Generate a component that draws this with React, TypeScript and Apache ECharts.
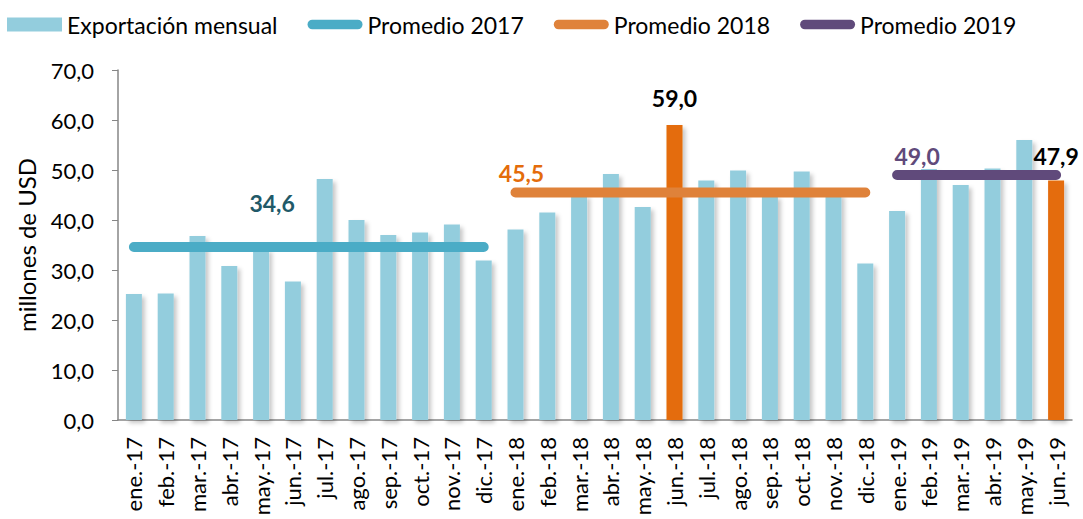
import React, { useEffect, useRef } from "react";
import * as echarts from "echarts";

const categories = [
  "ene.-17", "feb.-17", "mar.-17", "abr.-17", "may.-17", "jun.-17",
  "jul.-17", "ago.-17", "sep.-17", "oct.-17", "nov.-17", "dic.-17",
  "ene.-18", "feb.-18", "mar.-18", "abr.-18", "may.-18", "jun.-18",
  "jul.-18", "ago.-18", "sep.-18", "oct.-18", "nov.-18", "dic.-18",
  "ene.-19", "feb.-19", "mar.-19", "abr.-19", "may.-19", "jun.-19",
];

const monthlyExports = [
  25.2, 25.3, 36.8, 30.8, 34.2, 27.7, 48.2, 40.0, 37.0, 37.5, 39.1, 31.9,
  38.1, 41.5, 45.0, 49.2, 42.6, 59.0, 47.9, 49.9, 44.8, 49.7, 45.3, 31.3,
  41.8, 50.2, 47.0, 50.3, 56.0, 47.9,
];

const highlighted = ["jun.-18", "jun.-19"];

const averages = [
  { year: "17", value: 34.6, name: "Promedio 2017", labelAt: "may.-17" },
  { year: "18", value: 45.5, name: "Promedio 2018", labelAt: "ene.-18" },
  { year: "19", value: 49.0, name: "Promedio 2019", labelAt: "ene.-19" },
];

const yTicks = { min: 0, max: 70, interval: 10 };

const FONT = "Lato, 'Open Sans', sans-serif";
const BAR_COLOR = "#93CDDD";
const HIGHLIGHT_COLOR = "#E46C0A";
const LINE_COLORS = ["#4BACC6", "#DF823A", "#604A7B"];
const LABEL_COLORS = ["#215968", "#E46C0A", "#604A7B"];
const LABEL_OFFSETS: [number, number][] = [
  [11, -28],
  [6, -3],
  [20, -3],
];

const fmt = (v: number) => v.toFixed(1).replace(".", ",");

export default function App() {
  const ref = useRef<HTMLDivElement>(null);

  useEffect(() => {
    if (!ref.current) return;
    const chart = echarts.init(ref.current, undefined, { renderer: "svg" });

    const barData = monthlyExports.map((v, i) => {
      const isHi = highlighted.includes(categories[i]);
      if (!isHi) return v;
      return {
        value: v,
        itemStyle: { color: HIGHLIGHT_COLOR },
        label: {
          show: true,
          position: "top",
          formatter: fmt(v),
          fontFamily: FONT,
          fontSize: 23,
          fontWeight: "bold",
          color: "#000",
          offset: [0, i === 17 ? -11 : -8],
        },
      };
    });

    const lineSeries = averages.map((a, k) => ({
      name: a.name,
      type: "line",
      data: categories.map((c) => {
        if (!c.endsWith(a.year)) return null;
        if (c === a.labelAt) {
          return {
            value: a.value,
            label: {
              show: true,
              position: "top",
              formatter: fmt(a.value),
              fontFamily: FONT,
              fontSize: 23,
              fontWeight: "bold",
              color: LABEL_COLORS[k],
              offset: LABEL_OFFSETS[k],
            },
          };
        }
        return a.value;
      }),
      symbol: "circle",
      symbolSize: 0,
      showSymbol: true,
      showAllSymbol: true,
      connectNulls: false,
      silent: true,
      color: LINE_COLORS[k],
      itemStyle: { color: LINE_COLORS[k] },
      lineStyle: { color: LINE_COLORS[k], width: 10, cap: "round" },
      emphasis: { disabled: true },
      z: 3,
    }));

    const linePath = "path://M5 0H52A5 5 0 0 1 52 10H5A5 5 0 0 1 5 0Z";

    chart.setOption({
      animation: false,
      textStyle: { fontFamily: FONT },
      legend: {
        left: 2,
        top: 8,
        itemWidth: 55,
        itemHeight: 14,
        itemGap: 30,
        itemStyle: { borderWidth: 0 },
        textStyle: { fontFamily: FONT, fontSize: 23, color: "#000" },
        data: [
          { name: "Exportación mensual", icon: "rect", itemStyle: { color: BAR_COLOR } },
          ...averages.map((a) => ({ name: a.name, icon: linePath })),
        ],
      },
      grid: {
        left: 118,
        right: 11,
        top: 70,
        bottom: 99,
        containLabel: false,
        outerBoundsMode: "none",
      },
      xAxis: {
        type: "category",
        data: categories,
        axisLine: { show: true, lineStyle: { color: "#868686", width: 1.5 } },
        axisTick: { show: false },
        axisLabel: {
          interval: 0,
          rotate: 90,
          margin: 17,
          fontFamily: FONT,
          fontSize: 22,
          color: "#000",
        },
      },
      yAxis: {
        type: "value",
        min: yTicks.min,
        max: yTicks.max,
        interval: yTicks.interval,
        name: "millones de USD",
        nameLocation: "middle",
        nameGap: 80,
        nameRotate: 90,
        nameTextStyle: { fontFamily: FONT, fontSize: 24, color: "#000" },
        axisLine: { show: true, lineStyle: { color: "#868686", width: 1.5 } },
        axisTick: { show: true, length: 6, lineStyle: { color: "#868686" } },
        splitLine: { show: false },
        axisLabel: {
          formatter: (v: number) => fmt(v),
          margin: 24,
          fontFamily: FONT,
          fontSize: 22,
          color: "#000",
        },
      },
      series: [
        {
          name: "Exportación mensual",
          type: "bar",
          data: barData,
          barWidth: 16,
          itemStyle: {
            color: BAR_COLOR,
            shadowColor: "rgba(0,0,0,0.22)",
            shadowBlur: 4,
            shadowOffsetX: 3,
            shadowOffsetY: 3,
          },
          emphasis: { disabled: true },
          silent: true,
          z: 2,
        },
        ...lineSeries,
      ],
    });

    return () => chart.dispose();
  }, []);

  return <div ref={ref} style={{ width: 1083, height: 519, position: "absolute", left: 0, top: 0 }} />;
}
